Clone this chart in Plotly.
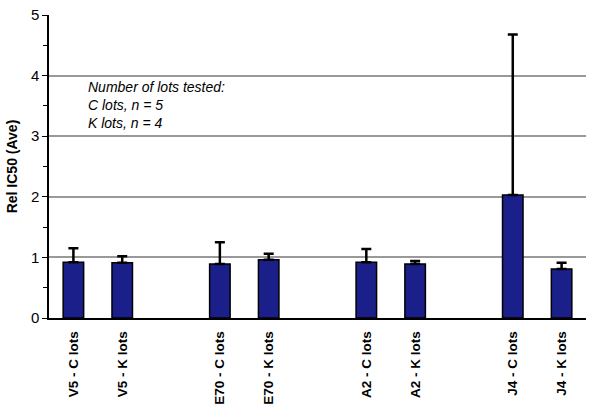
import plotly.graph_objects as go

# categories (blank entries are the gaps between groups)
categories = ["V5 - C lots", "V5 - K lots", " ",
              "E70 - C lots", "E70 - K lots", "  ",
              "A2 - C lots", "A2 - K lots", "   ",
              "J4 - C lots", "J4 - K lots"]
rel_ic50 = [0.92, 0.91, None, 0.89, 0.96, None, 0.92, 0.89, None, 2.03, 0.81]
err_up = [0.23, 0.11, None, 0.36, 0.10, None, 0.22, 0.05, None, 2.65, 0.10]

fig = go.Figure(go.Bar(
    x=categories,
    y=rel_ic50,
    marker=dict(color="#1a1f8a", line=dict(color="black", width=1.5)),
    error_y=dict(type="data", array=err_up, symmetric=False,
                 arrayminus=[0] * len(err_up),
                 color="black", thickness=2.5, width=5),
))

fig.add_annotation(
    x=0.069, y=3.98, xref="paper", yref="y", xanchor="left", yanchor="top",
    align="left", showarrow=False,
    text="<i>Number of lots tested:<br>C lots, n = 5<br>K lots, n = 4</i>",
    font=dict(family="Liberation Sans, Arial", size=14, color="black"),
)

fig.update_layout(
    width=600, height=410,
    margin=dict(l=49, r=14, t=15, b=92),
    paper_bgcolor="white", plot_bgcolor="white",
    showlegend=False,
    bargap=0.58,
    font=dict(family="Liberation Sans, Arial", color="black"),
    xaxis=dict(
        type="category", tickangle=-90, showline=True, linecolor="black",
        linewidth=1.5, ticks="", automargin=False, ticklabelstandoff=6,
        tickfont=dict(size=13.5, weight="bold"),
    ),
    yaxis=dict(
        range=[0, 5], dtick=1, showline=True, linecolor="black", linewidth=1.5,
        ticks="outside", ticklen=5, tickcolor="black", automargin=False,
        minor=dict(dtick=0.5, ticks="outside", ticklen=4, tickcolor="black"),
        showgrid=True, gridcolor="#999999", gridwidth=1.5,
        zeroline=False,
        tickfont=dict(size=15),
        title=dict(text="<b>Rel IC50 (Ave)</b>", font=dict(size=14), standoff=10),
    ),
)

# drop the browser's default body margin so the figure sits at (0, 0)
fig.write_html("out.html", config={"displayModeBar": False},
               post_script="document.body.style.margin='0px';")
